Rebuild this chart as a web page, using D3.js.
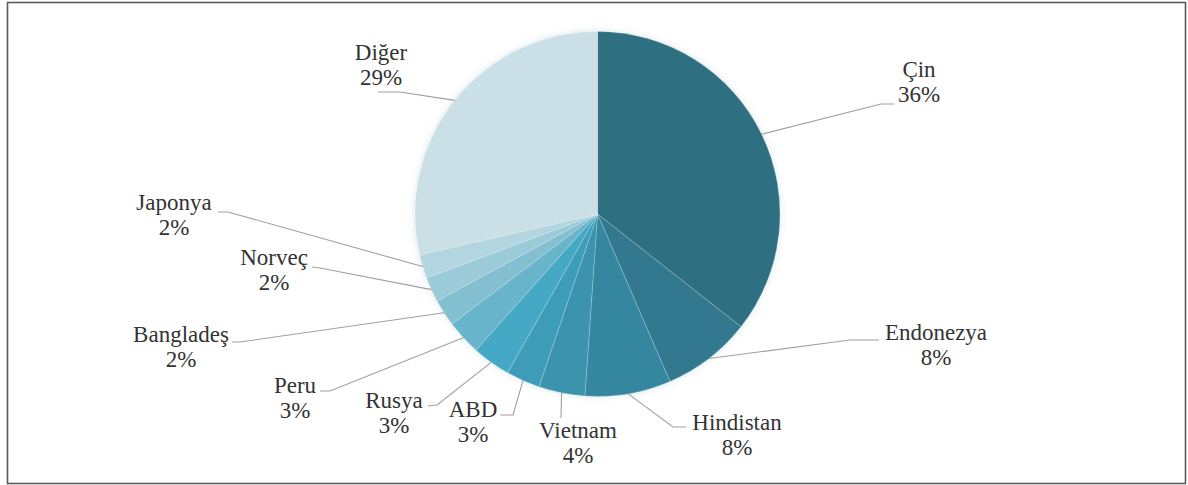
<!DOCTYPE html>
<html><head><meta charset="utf-8">
<script src="https://cdn.jsdelivr.net/npm/d3@7"></script>
<style>body{margin:0;background:#fff} svg{display:block} text{font-family:"Liberation Serif","DejaVu Serif",serif;}</style>
</head><body><svg id="c" width="1188" height="485"></svg>
<script>
// ---- data ----
const categories = ["Çin","Endonezya","Hindistan","Vietnam","ABD","Rusya","Peru","Bangladeş","Norveç","Japonya","Diğer"];
const shares = [35.6, 7.9, 7.6, 4.1, 3.0, 3.4, 3.1, 2.4, 2.2, 2.1, 28.6];
const sliceColors = ["#2f6f82","#32798f","#3587a0","#3a93ad","#3d9db8","#45a9c5","#68b4ca","#83bfd0","#9bcad8","#b2d5e0","#cbdfe7"];
// ---- label layout (text centre x, first baseline y, leader elbow points) ----
const labelLayout = [
  {x:919, y:77,  pts:[[881,104],[894,104]]},
  {x:936, y:340, pts:[[850,340],[879,340]]},
  {x:737, y:430, pts:[[673,427],[686,427]]},
  {x:578, y:438, pts:[[561,418]]},
  {x:473, y:417, pts:[[513,415],[500,415]]},
  {x:394, y:408, pts:[[437,405],[428,406]]},
  {x:295, y:393, pts:[[330,391],[320,391]]},
  {x:181, y:342, pts:[[240,342],[232,342]]},
  {x:274, y:265, pts:[[320,268],[312,267]]},
  {x:174, y:210, pts:[[228,212],[218,212]]},
  {x:381, y:60,  pts:[[400,92],[378,92]]}
];

const W = 1188, H = 485, cx = 597.5, cy = 214, R = 182.5;
const svg = d3.select("#c");
const total = d3.sum(shares);
const rows = categories.map((c,i)=>({name:c, value:shares[i], color:sliceColors[i], lay:labelLayout[i]}));

svg.append("rect").attr("x",7.5).attr("y",2.5).attr("width",1178).attr("height",481)
  .attr("fill","#fff").attr("stroke","#5a5a5a").attr("stroke-width",1.6);

const defs = svg.append("defs");
const f = defs.append("filter").attr("id","sh").attr("x","-10%").attr("y","-10%").attr("width","120%").attr("height","120%");
f.append("feDropShadow").attr("dx",0).attr("dy",0).attr("stdDeviation",3).attr("flood-color","#5a8fa0").attr("flood-opacity",0.25);

const pie = d3.pie().sort(null).value(d=>d.value);
const arcs = pie(rows);
const arc = d3.arc().innerRadius(0).outerRadius(R);

const g = svg.append("g").attr("transform",`translate(${cx},${cy})`);
g.append("g").attr("filter","url(#sh)").selectAll("path").data(arcs).join("path")
  .attr("d",arc).attr("fill",d=>d.data.color).attr("stroke","#ffffff").attr("stroke-opacity",0.35).attr("stroke-width",0.6);

const fmt = v => Math.round(v/total*100) + "%";
const line = d3.line();
arcs.forEach(a=>{
  const m = (a.startAngle+a.endAngle)/2;
  const p0 = [cx + R*Math.sin(m), cy - R*Math.cos(m)];
  const pts = [p0, ...a.data.lay.pts];
  svg.append("path").attr("d",line(pts)).attr("fill","none").attr("stroke","#a0a0a0").attr("stroke-width",1.1);
  const t = svg.append("text").attr("text-anchor","middle")
    .attr("font-size",23).attr("fill","#333333");
  t.append("tspan").attr("x",a.data.lay.x).attr("y",a.data.lay.y).text(a.data.name);
  t.append("tspan").attr("x",a.data.lay.x).attr("y",a.data.lay.y+25).text(fmt(a.data.value));
});
</script></body></html>
